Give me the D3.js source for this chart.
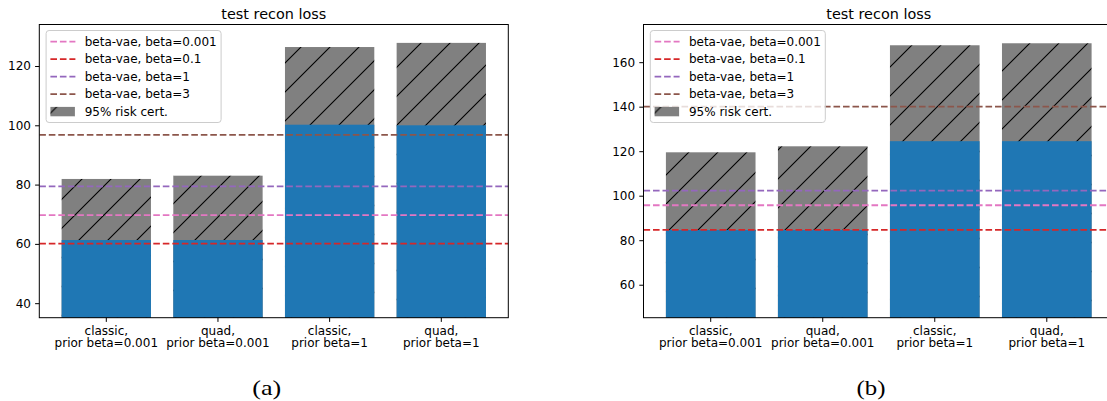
<!DOCTYPE html>
<html>
<head>
<meta charset="utf-8">
<script src="https://cdn.jsdelivr.net/npm/d3@7"></script>
<style>
  body { margin: 0; background: #fff; }
  svg text { font-family: "DejaVu Sans", sans-serif; fill: #000; }
</style>
</head>
<body>
<div id="chart"></div>
<script>
const WIDTH = 1107
const HEIGHT = 401

// x categories (two-line tick labels)
const categories = ['classic,\nprior beta=0.001', 'quad,\nprior beta=0.001', 'classic,\nprior beta=1', 'quad,\nprior beta=1']

// baseline series, legend order
const baselineLabels = ['beta-vae, beta=0.001', 'beta-vae, beta=0.1', 'beta-vae, beta=1', 'beta-vae, beta=3']
const certLabel = '95% risk cert.'

// panel (a)
const lossA = [61.3, 61.3, 100.2, 100.0]
const certA = [81.9, 83.0, 126.4, 127.8]
const baselinesA = [69.7, 60.1, 79.4, 96.8]

// panel (b)
const lossB = [84.6, 84.6, 124.5, 124.5]
const certB = [119.5, 122.2, 167.6, 168.5]
const baselinesB = [95.7, 84.6, 102.3, 140.0]

const baselineColors = ['#e377c2', '#d62728', '#9467bd', '#8c564b']
const BAR_BLUE = '#1f77b4'
const CERT_GREY = '#808080'

const panels = [
    { id: 'a', loss: lossA, cert: certA, baselines: baselinesA,
      x0: 39.3, x1: 508.3, y0: 24.5, y1: 317.7, yDomain: [35.1, 134.0], capX: 266.7 },
    { id: 'b', loss: lossB, cert: certB, baselines: baselinesB,
      x0: 643.5, x1: 1114, y0: 24.5, y1: 317.7, yDomain: [45.18, 176.93], capX: 871 }
]

const svg = d3.select('#chart')
    .append('svg')
    .attr('width', WIDTH)
    .attr('height', HEIGHT)

svg.append('rect').attr('width', WIDTH).attr('height', HEIGHT).attr('fill', '#fff')

const defs = svg.append('defs')
const HATCH = 29
const hatch = defs.append('pattern')
    .attr('id', 'hatch')
    .attr('patternUnits', 'userSpaceOnUse')
    .attr('width', HATCH)
    .attr('height', HATCH)
hatch.append('rect').attr('width', HATCH).attr('height', HATCH).attr('fill', CERT_GREY)
hatch.append('path')
    .attr('d', `M0,${HATCH} L${HATCH},0 M-2,2 L2,-2 M${HATCH - 2},${HATCH + 2} L${HATCH + 2},${HATCH - 2}`)
    .attr('stroke', '#000')
    .attr('stroke-width', 1.1)

const DASH = '6.6,2.9'
const TICK = 4.2

panels.forEach(p => {
    const g = svg.append('g').attr('class', `panel-${p.id}`)

    const x = d3.scaleBand()
        .domain(d3.range(categories.length))
        .range([p.x0, p.x1])
        .paddingInner(0.2)
        .paddingOuter(0.2)
    const y = d3.scaleLinear().domain(p.yDomain).range([p.y1, p.y0])

    defs.append('clipPath').attr('id', `clip-${p.id}`)
        .append('rect')
        .attr('x', p.x0).attr('y', p.y0)
        .attr('width', p.x1 - p.x0).attr('height', p.y1 - p.y0)

    const plot = g.append('g').attr('clip-path', `url(#clip-${p.id})`)

    // risk certificate bars (hatched), then test loss on top
    plot.selectAll('.cert')
        .data(p.cert)
        .enter()
            .append('rect')
            .attr('class', 'cert')
            .attr('x', (d, i) => x(i))
            .attr('width', x.bandwidth())
            .attr('y', d => y(d))
            .attr('height', d => y(0) - y(d))
            .attr('fill', 'url(#hatch)')

    plot.selectAll('.loss')
        .data(p.loss)
        .enter()
            .append('rect')
            .attr('class', 'loss')
            .attr('x', (d, i) => x(i))
            .attr('width', x.bandwidth())
            .attr('y', d => y(d))
            .attr('height', d => y(0) - y(d))
            .attr('fill', BAR_BLUE)

    plot.selectAll('.baseline')
        .data(p.baselines)
        .enter()
            .append('line')
            .attr('class', 'baseline')
            .attr('x1', p.x0)
            .attr('x2', p.x1)
            .attr('y1', d => y(d))
            .attr('y2', d => y(d))
            .attr('stroke', (d, i) => baselineColors[i])
            .attr('stroke-width', 1.8)
            .attr('stroke-dasharray', DASH)

    // axes
    const yAxis = g.append('g')
        .attr('transform', `translate(${p.x0},0)`)
        .call(d3.axisLeft(y).ticks(5).tickSize(TICK).tickPadding(4.2).tickSizeOuter(0))
    yAxis.select('.domain').remove()
    yAxis.selectAll('text').attr('font-size', 12).attr('font-family', null)
    yAxis.selectAll('line').attr('stroke', '#000').attr('stroke-width', 1)

    const xAxis = g.append('g')
        .attr('transform', `translate(0,${p.y1})`)
        .call(d3.axisBottom(x).tickSize(TICK).tickFormat('').tickSizeOuter(0))
    xAxis.select('.domain').remove()
    xAxis.selectAll('line').attr('stroke', '#000').attr('stroke-width', 1)
    xAxis.selectAll('.tick').each(function(d) {
        const t = d3.select(this).append('text')
            .attr('text-anchor', 'middle')
            .attr('font-size', 12)
            .attr('y', 17.8)
        categories[d].split('\n').forEach((s, k) => {
            t.append('tspan').attr('x', 0).attr('dy', k === 0 ? 0 : 11.6).text(s)
        })
    })

    // spines
    g.append('rect')
        .attr('x', p.x0).attr('y', p.y0)
        .attr('width', p.x1 - p.x0).attr('height', p.y1 - p.y0)
        .attr('fill', 'none')
        .attr('stroke', '#000')
        .attr('stroke-width', 1)

    g.append('text')
        .attr('x', (p.x0 + p.x1) / 2)
        .attr('y', 18.5)
        .attr('text-anchor', 'middle')
        .attr('font-size', 14.4)
        .text('test recon loss')

    // legend
    const lx = p.x0 + 6.8
    const ly = p.y0 + 6
    const leg = g.append('g').attr('transform', `translate(${lx},${ly})`)
    leg.append('rect')
        .attr('width', 175)
        .attr('height', 92)
        .attr('rx', 3)
        .attr('fill', '#fff')
        .attr('fill-opacity', 0.8)
        .attr('stroke', '#cccccc')
        .attr('stroke-width', 1)
    const rowY = k => 11.2 + k * 17.45
    baselineLabels.forEach((lab, k) => {
        leg.append('line')
            .attr('x1', 4.3).attr('x2', 29.3)
            .attr('y1', rowY(k)).attr('y2', rowY(k))
            .attr('stroke', baselineColors[k])
            .attr('stroke-width', 1.8)
            .attr('stroke-dasharray', DASH)
        leg.append('text')
            .attr('x', 38.6).attr('y', rowY(k))
            .attr('dy', '0.36em')
            .attr('font-size', 12)
            .text(lab)
    })
    leg.append('rect')
        .attr('x', 4.3).attr('y', rowY(4) - 4.6)
        .attr('width', 24.5).attr('height', 9.4)
        .attr('fill', 'url(#hatch)')
    leg.append('text')
        .attr('x', 38.6).attr('y', rowY(4))
        .attr('dy', '0.36em')
        .attr('font-size', 12)
        .text(certLabel)

    svg.append('text')
        .attr('x', p.capX)
        .attr('y', 395)
        .attr('text-anchor', 'middle')
        .attr('font-family', '"Liberation Serif", serif')
        .attr('font-size', 22)
        .attr('textLength', 29)
        .attr('lengthAdjust', 'spacingAndGlyphs')
        .style('font-family', '"Liberation Serif", serif')
        .text(`(${p.id})`)
})
</script>
</body>
</html>
